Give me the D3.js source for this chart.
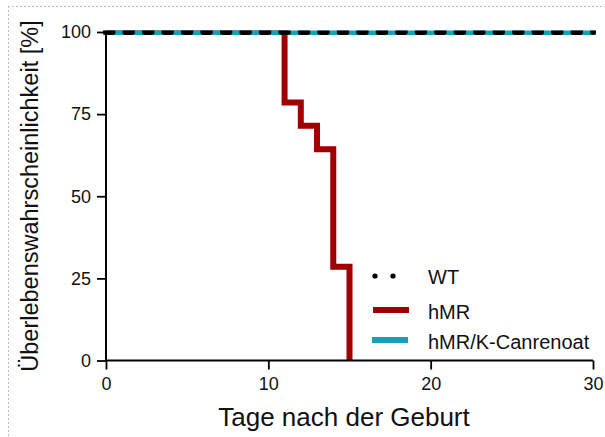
<!DOCTYPE html>
<html>
<head>
<meta charset="utf-8">
<script src="https://cdn.jsdelivr.net/npm/d3@7"></script>
<style>
  html, body { margin: 0; padding: 0; background: #fff; }
  svg { display: block; }
  text { font-family: "Liberation Sans", Arial, Helvetica, sans-serif; fill: #111; }
</style>
</head>
<body>
<svg id="chart" width="605" height="437"></svg>
<script>
// Survival data (Kaplan–Meier), days after birth vs. percent surviving
const wtDays = [0, 30];
const wtSurvival = [100, 100];

const hmrDays = [0, 11, 12, 13, 14, 15];
const hmrSurvival = [100, 78.57, 71.43, 64.29, 28.57, 0];

const canrenoatDays = [0, 30];
const canrenoatSurvival = [100, 100];

const seriesNames = ["WT", "hMR", "hMR/K-Canrenoat"];
const xTicks = [0, 10, 20, 30];
const yTicks = [0, 25, 50, 75, 100];
const xTitle = "Tage nach der Geburt";
const yTitle = "Überlebenswahrscheinlichkeit [%]";

const RED = "#a00000";
const CYAN = "#17a0b7";

const svg = d3.select("#chart");

// dotted frame on the top and left edges
svg.append("line").attr("x1", 8).attr("x2", 605).attr("y1", 6.5).attr("y2", 6.5)
  .attr("stroke", "#bdbdbd").attr("stroke-width", 1).attr("stroke-dasharray", "2,2");
svg.append("line").attr("x1", 8.5).attr("x2", 8.5).attr("y1", 6).attr("y2", 437)
  .attr("stroke", "#bdbdbd").attr("stroke-width", 1).attr("stroke-dasharray", "2,2");

const x = d3.scaleLinear().domain([0, 30]).range([106, 593]);
const y = d3.scaleLinear().domain([0, 100]).range([360.5, 32]);

// plot clip: curves at 100 % are cut at the top edge
svg.append("defs").append("clipPath").attr("id", "plotClip")
  .append("rect").attr("x", 0).attr("y", y(100) - 1.5).attr("width", 605).attr("height", 437);

const plot = svg.append("g").attr("clip-path", "url(#plotClip)");

const toPts = (xs, ys) => xs.map((d, i) => [d, ys[i]]);
const stepLine = d3.line().x(d => x(d[0])).y(d => y(d[1])).curve(d3.curveStepAfter);
const flatLine = d3.line().x(d => x(d[0])).y(d => y(d[1]));

// hMR
plot.append("path")
  .attr("d", stepLine(toPts(hmrDays, hmrSurvival)))
  .attr("fill", "none").attr("stroke", RED).attr("stroke-width", 6)
  .attr("stroke-linejoin", "miter");

// hMR/K-Canrenoat
plot.append("path")
  .attr("d", flatLine(toPts(canrenoatDays, canrenoatSurvival)))
  .attr("fill", "none").attr("stroke", CYAN).attr("stroke-width", 6)
  .attr("stroke-linecap", "square");

// WT (dotted)
const dotPeriod = (x(30) - x(0)) / 25;
plot.append("path")
  .attr("d", flatLine(toPts(wtDays, wtSurvival)))
  .attr("fill", "none").attr("stroke", "#000").attr("stroke-width", 6)
  .attr("stroke-linecap", "round")
  .attr("stroke-dasharray", `6.5,${dotPeriod - 6.5}`);

// axes
const xAxis = svg.append("g").attr("transform", `translate(0,${y(0)})`)
  .call(d3.axisBottom(x).tickValues(xTicks).tickSize(9).tickPadding(8).tickFormat(d3.format("d")));
const yAxis = svg.append("g").attr("transform", `translate(${x(0)},0)`)
  .call(d3.axisLeft(y).tickValues(yTicks).tickSize(9).tickPadding(6).tickFormat(d3.format("d")));

[xAxis, yAxis].forEach(g => {
  g.select(".domain").attr("stroke", "#000").attr("stroke-width", 2);
  g.selectAll(".tick line").attr("stroke", "#000").attr("stroke-width", 1.8);
  g.selectAll(".tick text").attr("font-size", 18).attr("fill", "#111")
    .attr("font-family", "'Liberation Sans', Arial, Helvetica, sans-serif");
});
// remove the outer tick stubs drawn at the domain ends
xAxis.select(".domain").attr("d", `M${x(0)},0H${x(30)}`);
yAxis.select(".domain").attr("d", `M0,${y(0)}V${y(100)}`);

// axis titles
svg.append("text").attr("x", 344).attr("y", 426)
  .attr("text-anchor", "middle").attr("font-size", 26).text(xTitle);
svg.append("text")
  .attr("transform", "translate(38,196) rotate(-90)")
  .attr("text-anchor", "middle").attr("font-size", 23.5).text(yTitle);

// legend
const legend = svg.append("g");
legend.selectAll("circle.wt").data([375, 393]).enter().append("circle")
  .attr("cx", d => d).attr("cy", 276).attr("r", 2.6).attr("fill", "#000");
legend.append("line").attr("x1", 373).attr("x2", 409).attr("y1", 310).attr("y2", 310)
  .attr("stroke", RED).attr("stroke-width", 6);
legend.append("line").attr("x1", 372).attr("x2", 408).attr("y1", 340).attr("y2", 340)
  .attr("stroke", CYAN).attr("stroke-width", 6);
legend.selectAll("text").data(seriesNames).enter().append("text")
  .attr("x", 428).attr("y", (d, i) => [284, 319, 349][i])
  .attr("font-size", 20).text(d => d);
</script>
</body>
</html>
